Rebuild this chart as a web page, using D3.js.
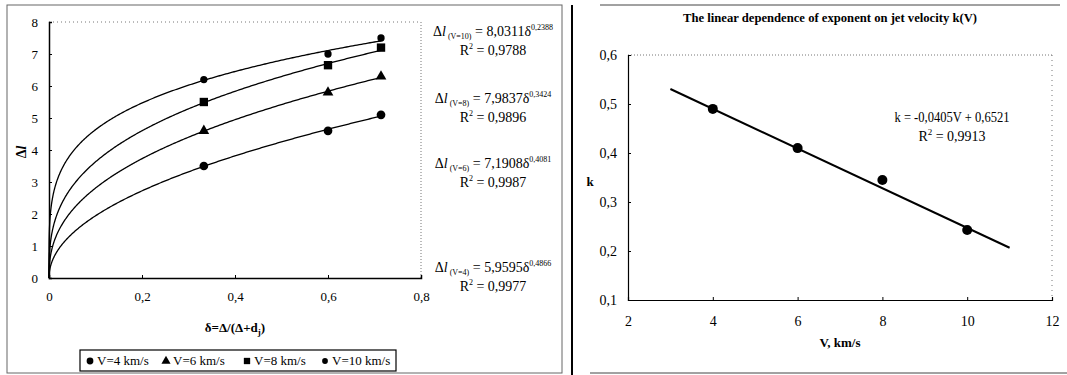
<!DOCTYPE html>
<html>
<head>
<meta charset="utf-8">
<script src="https://cdn.jsdelivr.net/npm/d3@7"></script>
<style>
  body { margin: 0; background: #fff; }
  svg { display: block; font-family: "Liberation Serif", "DejaVu Serif", serif; }
</style>
</head>
<body>
<svg id="chart" width="1067" height="375"></svg>
<script>
// left chart: Δl vs δ
const deltas = [0.333, 0.6, 0.714];
const velocities = [4, 6, 8, 10];
const dl4 = [3.5, 4.6, 5.1];
const dl6 = [4.6, 5.8, 6.3];
const dl8 = [5.5, 6.65, 7.2];
const dl10 = [6.2, 7.0, 7.5];
const fitCoef = [5.9595, 7.1908, 7.9837, 8.0311];
const fitExp = [0.4866, 0.4081, 0.3424, 0.2388];
const fitR2 = ['0,9977', '0,9987', '0,9896', '0,9788'];
const leftXTicks = [0, 0.2, 0.4, 0.6, 0.8];
const leftYTicks = [0, 1, 2, 3, 4, 5, 6, 7, 8];

// right chart: k vs V
const kV = [4, 6, 8, 10];
const kVals = [0.49, 0.41, 0.345, 0.243];
const kSlope = -0.0405;
const kIntercept = 0.6521;
const kLineRange = [3, 11];
const rightXTicks = [2, 4, 6, 8, 10, 12];
const rightYTicks = [0.1, 0.2, 0.3, 0.4, 0.5, 0.6];

const svg = d3.select('#chart');
const comma = v => String(v).replace('.', ',');

// panel frames
svg.append('rect').attr('x', 7).attr('y', 5).attr('width', 555).attr('height', 368)
  .attr('fill', 'none').attr('stroke', '#666').attr('stroke-width', 1);
svg.append('line').attr('x1', 572).attr('x2', 572).attr('y1', 5).attr('y2', 375)
  .attr('stroke', '#000').attr('stroke-width', 2);
svg.append('line').attr('x1', 600).attr('x2', 1060).attr('y1', 5).attr('y2', 5)
  .attr('stroke', '#444');
svg.append('line').attr('x1', 590).attr('x2', 1067).attr('y1', 373).attr('y2', 373)
  .attr('stroke', '#444');

// ---------- left chart ----------
const xL = d3.scaleLinear().domain([0, 0.8]).range([49, 421]);
const yL = d3.scaleLinear().domain([0, 8]).range([278, 22]);

const gL = svg.append('g');

// dotted top/right frame
gL.append('line').attr('x1', xL(0)).attr('x2', xL(0.8)).attr('y1', yL(8)).attr('y2', yL(8))
  .attr('stroke', '#777').attr('stroke-dasharray', '1,3');
gL.append('line').attr('x1', xL(0.8)).attr('x2', xL(0.8)).attr('y1', yL(8)).attr('y2', yL(0))
  .attr('stroke', '#777').attr('stroke-dasharray', '1,2');

const axL = gL.append('g').attr('transform', `translate(0,${yL(0)})`)
  .call(d3.axisBottom(xL).tickValues(leftXTicks).tickSize(-3).tickPadding(14)
    .tickFormat(d => comma(d)));
const ayL = gL.append('g').attr('transform', `translate(${xL(0)},0)`)
  .call(d3.axisLeft(yL).tickValues(leftYTicks).tickSize(-3).tickPadding(11)
    .tickFormat(d => d));
[axL, ayL].forEach(a => {
  a.attr('font-family', null);
  a.select('.domain').attr('stroke', '#000').attr('stroke-width', 1.5);
  a.selectAll('text').attr('font-size', 13).attr('fill', '#000');
});

// fitted curves
const line = d3.line().x(d => xL(d[0])).y(d => yL(d[1]));
velocities.forEach((v, i) => {
  const pts = d3.range(0, 301).map(j => {
    const x = 0.714 * Math.pow(j / 300, 2);
    return [x, fitCoef[i] * Math.pow(x, fitExp[i])];
  });
  gL.append('path').attr('d', line(pts)).attr('fill', 'none')
    .attr('stroke', '#000').attr('stroke-width', 1.3);
});

// markers
const series = [dl4, dl6, dl8, dl10];
const symbols = [
  d3.symbol().type(d3.symbolCircle).size(60),
  d3.symbol().type(d3.symbolTriangle).size(50),
  d3.symbol().type(d3.symbolSquare).size(70),
  d3.symbol().type(d3.symbolCircle).size(42)
];
series.forEach((s, i) => {
  gL.selectAll(null).data(s).enter().append('path')
    .attr('d', symbols[i]())
    .attr('transform', (d, j) => `translate(${xL(deltas[j])},${yL(d)})`)
    .attr('fill', '#000');
});

// axis titles
gL.append('text').attr('transform', 'translate(26,152) rotate(-90)')
  .attr('text-anchor', 'middle').attr('font-weight', 'bold').attr('font-size', 14)
  .html('Δ<tspan font-style="italic">l</tspan>');
const xt = gL.append('text').attr('x', 235).attr('y', 332).attr('text-anchor', 'middle')
  .attr('font-weight', 'bold').attr('font-size', 13);
xt.append('tspan').text('δ=Δ/(Δ+d');
xt.append('tspan').attr('font-size', 9).attr('dy', 3).text('j');
xt.append('tspan').attr('dy', -3).text(')');

// equations
const eqY = [268, 164, 99, 32];
velocities.forEach((v, i) => {
  const t = gL.append('text').attr('x', 493).attr('y', eqY[i] + 4).attr('text-anchor', 'middle')
    .attr('font-size', 14);
  t.append('tspan').text('Δ');
  t.append('tspan').attr('font-style', 'italic').text('l');
  t.append('tspan').attr('font-size', 8).attr('dy', 3).text(` (V=${v})`);
  t.append('tspan').attr('dy', -3).text(` = ${comma(fitCoef[i].toFixed(4))}δ`);
  t.append('tspan').attr('font-size', 8).attr('dy', -6).text(comma(fitExp[i].toFixed(4)));
  gL.append('text').attr('x', 493).attr('y', eqY[i] + 23).attr('text-anchor', 'middle')
    .attr('font-size', 14).html(`R<tspan font-size="8" dy="-6">2</tspan><tspan dy="6"> = ${fitR2[i]}</tspan>`);
});

// legend
gL.append('rect').attr('x', 80).attr('y', 350).attr('width', 316).attr('height', 21)
  .attr('fill', '#fff').attr('stroke', '#000').attr('stroke-width', 1.2);
const legX = [90, 166, 247, 325];
velocities.forEach((v, i) => {
  gL.append('path').attr('d', d3.symbol().type(
    [d3.symbolCircle, d3.symbolTriangle, d3.symbolSquare, d3.symbolCircle][i]).size([36, 36, 40, 26][i])())
    .attr('transform', `translate(${legX[i]},361)`).attr('fill', '#000');
  gL.append('text').attr('x', legX[i] + 7).attr('y', 365).attr('font-size', 13)
    .text(`V=${v} km/s`);
});

// ---------- right chart ----------
const xR = d3.scaleLinear().domain([2, 12]).range([628, 1052]);
const yR = d3.scaleLinear().domain([0.1, 0.6]).range([300, 55]);
const gR = svg.append('g');

gR.append('line').attr('x1', xR(2)).attr('x2', xR(12)).attr('y1', yR(0.6)).attr('y2', yR(0.6))
  .attr('stroke', '#777').attr('stroke-dasharray', '1,2');
gR.append('line').attr('x1', xR(12)).attr('x2', xR(12)).attr('y1', yR(0.6)).attr('y2', yR(0.1))
  .attr('stroke', '#777').attr('stroke-dasharray', '1,4');

const axR = gR.append('g').attr('transform', `translate(0,${yR(0.1)})`)
  .call(d3.axisBottom(xR).tickValues(rightXTicks).tickSize(-3).tickPadding(16).tickFormat(d => d));
const ayR = gR.append('g').attr('transform', `translate(${xR(2)},0)`)
  .call(d3.axisLeft(yR).tickValues(rightYTicks).tickSize(-3).tickPadding(11)
    .tickFormat(d => comma(d.toFixed(1))));
[axR, ayR].forEach(a => {
  a.attr('font-family', null);
  a.select('.domain').attr('stroke', '#000').attr('stroke-width', 1.2);
  a.selectAll('text').attr('font-size', 14).attr('fill', '#000');
});

// fit line
gR.append('line')
  .attr('x1', xR(kLineRange[0])).attr('y1', yR(kSlope * kLineRange[0] + kIntercept))
  .attr('x2', xR(kLineRange[1])).attr('y2', yR(kSlope * kLineRange[1] + kIntercept))
  .attr('stroke', '#000').attr('stroke-width', 2);

gR.selectAll(null).data(kVals).enter().append('circle')
  .attr('cx', (d, i) => xR(kV[i])).attr('cy', d => yR(d)).attr('r', 5).attr('fill', '#000');

// titles
gR.append('text').attr('x', 830).attr('y', 22).attr('text-anchor', 'middle')
  .attr('font-weight', 'bold').attr('font-size', 12)
  .attr('textLength', 294).attr('lengthAdjust', 'spacingAndGlyphs')
  .text('The linear  dependence of exponent on jet velocity k(V)');
gR.append('text').attr('x', 590).attr('y', 186).attr('text-anchor', 'middle')
  .attr('font-weight', 'bold').attr('font-size', 13).text('k');
gR.append('text').attr('x', 840).attr('y', 347).attr('text-anchor', 'middle')
  .attr('font-weight', 'bold').attr('font-size', 13).text('V, km/s');

gR.append('text').attr('x', 952).attr('y', 122).attr('text-anchor', 'middle').attr('font-size', 14)
  .attr('textLength', 115).attr('lengthAdjust', 'spacingAndGlyphs')
  .text(`k = ${comma(kSlope)}V + ${comma(kIntercept)}`);
gR.append('text').attr('x', 952).attr('y', 141).attr('text-anchor', 'middle').attr('font-size', 14)
  .html('R<tspan font-size="9" dy="-6">2</tspan><tspan dy="6"> = 0,9913</tspan>');
</script>
</body>
</html>
